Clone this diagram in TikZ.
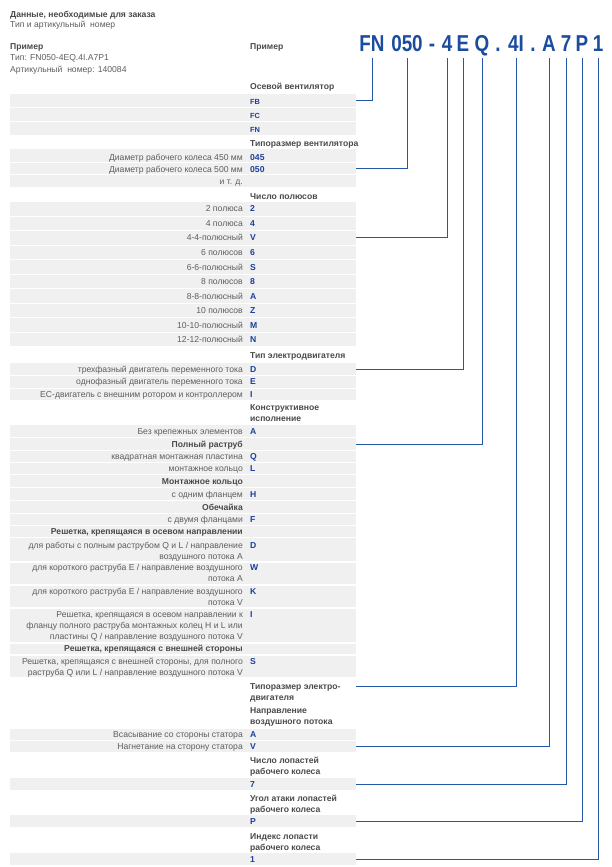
\documentclass[tikz,border=0pt]{standalone}
\usepackage{fontspec}
\setmainfont{Liberation Sans}
\newfontfamily\bigfont[FakeStretch=0.82]{Liberation Sans}
\definecolor{barc}{HTML}{F0F0F0}
\definecolor{labc}{HTML}{5E5E5E}
\definecolor{headc}{HTML}{4A4A4A}
\definecolor{codec}{HTML}{1C3F9A}
\definecolor{bigc}{HTML}{1B4C9E}
\definecolor{linec}{HTML}{2458A6}
\newcommand\fs{\fontsize{8.6}{11}\selectfont}
\newcommand\rowbar[3]{\node[bar, minimum height={#3-#2}] (#1) at (10,{(#2+#3)/2}) {};}
\newcommand\rowtext[4]{\node[lab] (#1l) at (243,#2) {#3};\node[codest] (#1c) at (250,#2) {#4};}
% multi-line: name, first baseline, last baseline, label, code
\newcommand\rowtextm[5]{\node[lab] (#1l) at (243,#3) {#4};\node[codest] (#1c) at (250,#2) {#5};}
\tikzset{
  bar/.style={fill=barc, draw=none, minimum width=346pt, inner sep=0pt, anchor=west},
  lab/.style={font=\fs, text=labc, inner sep=0pt, anchor=base east, align=right},
  codest/.style={font=\fs\bfseries, text=codec, inner sep=0pt, anchor=base west},
  smallcode/.style={codest, font=\fontsize{7.4}{9}\selectfont\bfseries},
  head/.style={font=\fs\bfseries, text=headc, inner sep=0pt, anchor=base west, align=left},
  sub/.style={lab, font=\fs\bfseries, text=headc},
  big/.style={font=\bigfont\bfseries\fontsize{23}{23}\selectfont, text=bigc, inner sep=0pt, anchor=base},
  conn/.style={draw=linec, line width=0.9pt},
}
\begin{document}
\begin{tikzpicture}[x=1pt,y=-1pt]
\useasboundingbox[fill=white] (0,0) rectangle (611,867);
% header texts
\node[head] (title) at (10,28) {Данные, необходимые для заказа\\[-1pt]\mdseries\color{labc}Тип и артикульный\ \ номер};
\node[head] (ex) at (10,72) {Пример\\\mdseries\color{labc}Тип: FN050-4EQ.4I.A7P1\\\mdseries\color{labc}Артикульный\ \ номер: 140084};
\node[head] (exr) at (250,50) {Пример};
% big type code
\node[big] (tFN) at (372,52) {FN};
\node[big] (t050) at (407,52) {050};
\node[big] (td1) at (432,52) {-};
\node[big] (t4) at (447,52) {4};
\node[big] (tE) at (463,52) {E};
\node[big] (tQ) at (482,52) {Q};
\node[big] (tp1) at (498,52) {.};
\node[big] (t4I) at (516,52) {4I};
\node[big] (tp2) at (533,52) {.};
\node[big] (tA) at (549,52) {A};
\node[big] (t7) at (566,52) {7};
\node[big] (tP) at (582,52) {P};
\node[big] (t1) at (598,52) {1};
% Axial fan
\node[head] (hAx) at (250,89) {Осевой вентилятор};
\rowbar{bFB}{94}{107}
\rowbar{bFC}{108}{121}
\rowbar{bFN}{122}{135}
\node[smallcode] (cFB) at (250,104) {FB};
\node[smallcode] (cFC) at (250,118) {FC};
\node[smallcode] (cFN) at (250,132) {FN};
% size
\node[head] (hSize) at (250,146) {Типоразмер вентилятора};
\rowbar{b045}{149}{162}
\rowbar{b050}{163}{174}
\rowbar{betc}{175}{187}
\rowtext{r045}{160}{Диаметр рабочего колеса 450 мм}{045}
\rowtext{r050}{172.5}{Диаметр рабочего колеса 500 мм}{050}
\node[lab] (retc) at (243,184.5) {и т. д.};
% poles
\node[head] (hPol) at (250,199) {Число полюсов};
\rowbar{bP2}{202}{215.5}
\rowbar{bP4}{216.5}{230}
\rowbar{bPV}{231.1}{244.6}
\rowbar{bP6}{245.6}{259.1}
\rowbar{bPS}{260.2}{273.7}
\rowbar{bP8}{274.7}{288.2}
\rowbar{bPA}{289.3}{302.8}
\rowbar{bPZ}{303.8}{317.3}
\rowbar{bPM}{318.4}{331.9}
\rowbar{bPN}{332.9}{346.4}
\rowtext{rP2}{211.8}{2 полюса}{2}
\rowtext{rP4}{226.3}{4 полюса}{4}
\rowtext{rPV}{240.9}{4-4-полюсный}{V}
\rowtext{rP6}{255.4}{6 полюсов}{6}
\rowtext{rPS}{270}{6-6-полюсный}{S}
\rowtext{rP8}{284.5}{8 полюсов}{8}
\rowtext{rPA}{299.1}{8-8-полюсный}{A}
\rowtext{rPZ}{313.6}{10 полюсов}{Z}
\rowtext{rPM}{328.2}{10-10-полюсный}{M}
\rowtext{rPN}{342.7}{12-12-полюсный}{N}
% motor type
\node[head] (hMot) at (250,358) {Тип электродвигателя};
\rowbar{bMD}{363}{375}
\rowbar{bME}{376}{387.5}
\rowbar{bMI}{388.5}{399.5}
\rowtext{rMD}{372}{трехфазный двигатель переменного тока}{D}
\rowtext{rME}{384.7}{однофазный двигатель переменного тока}{E}
\rowtext{rMI}{397}{EC-двигатель с внешним ротором и контроллером}{I}
% design
\node[head] (hDes) at (250,421) {Конструктивное\\исполнение};
\rowbar{bDA}{425}{437}
\rowbar{bDfull}{438}{450}
\rowbar{bDQ}{451}{462}
\rowbar{bDL}{463}{474}
\rowbar{bDring}{475}{487}
\rowbar{bDH}{488}{500}
\rowbar{bDshell}{501}{513}
\rowbar{bDF}{514}{525}
\rowbar{bDgrid}{526}{537}
\rowbar{bDD}{538}{561}
\rowbar{bDW}{562.5}{584}
\rowbar{bDK}{585.5}{607}
\rowbar{bDI}{608.5}{642}
\rowbar{bDgrid2}{643.5}{654}
\rowbar{bDS}{655.5}{676.5}
\rowtext{rDA}{434}{Без крепежных элементов}{A}
\node[sub] (sFull) at (243,447) {Полный раструб};
\rowtext{rDQ}{459.5}{квадратная монтажная пластина}{Q}
\rowtext{rDL}{471.5}{монтажное кольцо}{L}
\node[sub] (sRing) at (243,484) {Монтажное кольцо};
\rowtext{rDH}{497}{с одним фланцем}{H}
\node[sub] (sShell) at (243,510) {Обечайка};
\rowtext{rDF}{522.5}{с двумя фланцами}{F}
\node[sub] (sGrid) at (243,534.5) {Решетка, крепящаяся в осевом направлении};
\rowtextm{rDD}{548}{559}{для работы с полным раструбом Q и L / направление\\воздушного потока A}{D}
\rowtextm{rDW}{570}{581}{для короткого раструба E / направление воздушного\\потока A}{W}
\rowtextm{rDK}{594.5}{605.5}{для короткого раструба E / направление воздушного\\потока V}{K}
\rowtextm{rDI}{617}{639}{Решетка, крепящаяся в осевом направлении к\\фланцу полного раструба монтажных колец H и L или\\пластины Q / направление воздушного потока V}{I}
\node[sub] (sGrid2) at (243,651.5) {Решетка, крепящаяся с внешней стороны};
\rowtextm{rDS}{664}{675}{Решетка, крепящаяся с внешней стороны, для полного\\раструба Q или L / направление воздушного потока V}{S}
% motor size
\node[head] (hMsize) at (250,700) {Типоразмер электро-\\двигателя};
\coordinate (cMsize) at (356,686);
% air direction
\node[head] (hAir) at (250,724) {Направление\\воздушного потока};
\rowbar{bAA}{729}{740}
\rowbar{bAV}{741}{752}
\rowtext{rAA}{737.5}{Всасывание со стороны статора}{A}
\rowtext{rAV}{749.5}{Нагнетание на сторону статора}{V}
% blades
\node[head] (hBl) at (250,774) {Число лопастей\\рабочего колеса};
\rowbar{bB7}{778}{790}
\node[codest] (cB7) at (250,787.5) {7};
\node[head] (hAng) at (250,812) {Угол атаки лопастей\\рабочего колеса};
\rowbar{bBP}{815}{827}
\node[codest] (cBP) at (250,824.5) {P};
\node[head] (hIdx) at (250,850) {Индекс лопасти\\рабочего колеса};
\rowbar{bB1}{853}{865}
\node[codest] (cB1) at (250,862.5) {1};
% connectors
\coordinate (top) at (0,58);
\draw[conn] (tFN |- top) |- (bFB.east);
\draw[conn] (t050 |- top) |- (b050.east);
\draw[conn] (t4 |- top) |- (bPV.east);
\draw[conn] (tE |- top) |- (bMD.east);
\draw[conn] (tQ |- top) |- (bDfull.east);
\draw[conn] (t4I |- top) |- (cMsize);
\draw[conn] (tA |- top) |- (bAV.east);
\draw[conn] (t7 |- top) |- (bB7.east);
\draw[conn] (tP |- top) |- (bBP.east);
\draw[conn] (t1 |- top) |- (bB1.east);
\end{tikzpicture}
\end{document}
